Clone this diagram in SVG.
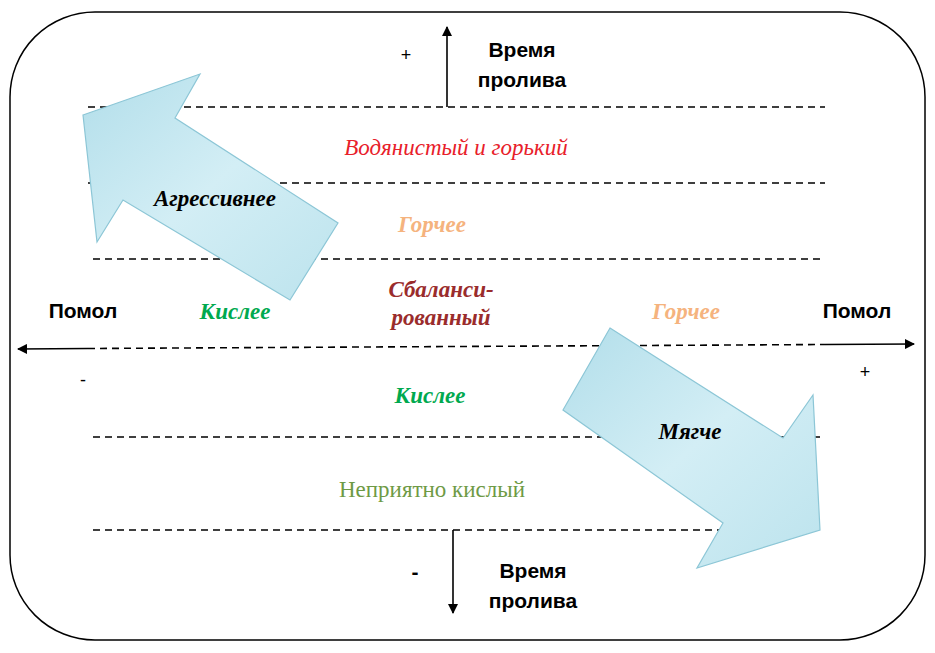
<svg xmlns="http://www.w3.org/2000/svg" width="935" height="653" viewBox="0 0 935 653">
<style>
.dash{stroke:#000;stroke-width:1.6;stroke-dasharray:7 5;fill:none}
.solid{stroke:#000;stroke-width:1.6;fill:none}
.blk{stroke:#8cc6d6;stroke-width:1.2;fill:url(#g)}
.sans{font-family:"Liberation Sans",Arial,sans-serif;font-weight:bold;font-size:21px;fill:#000}
.ser{font-family:"Liberation Serif","Times New Roman",serif;font-size:23px}
.bi{font-family:"Liberation Serif","Times New Roman",serif;font-size:23px;font-style:italic;font-weight:bold}
.sign{font-family:"Liberation Sans",Arial,sans-serif;font-size:18px;fill:#000}
</style>
<defs>
<linearGradient id="g" x1="0" y1="0" x2="1" y2="1">
<stop offset="0" stop-color="#b2deea"/>
<stop offset="0.5" stop-color="#d3eef5"/>
<stop offset="1" stop-color="#bce3ed"/>
</linearGradient>
<marker id="ah2" viewBox="0 0 10 10" refX="9" refY="5" markerWidth="12" markerHeight="10" markerUnits="userSpaceOnUse" orient="auto">
<path d="M0,0 L10,5 L0,10 z" fill="#000"/>
</marker>
</defs>
<rect id="frame" x="10" y="12" width="915" height="628" rx="85" ry="85" fill="#fff" stroke="#000" stroke-width="1.5"/>
<g id="connectors">
<line class="dash" x1="88" y1="107" x2="825" y2="107"/>
<line class="dash" x1="88" y1="183" x2="825" y2="183"/>
<line class="dash" x1="93" y1="259" x2="825" y2="259"/>
<line class="dash" x1="93" y1="437" x2="820" y2="437"/>
<line class="dash" x1="93" y1="530" x2="760" y2="530"/>
<line class="solid" x1="88" y1="348.5" x2="18" y2="349" marker-end="url(#ah2)"/>
<line class="dash" x1="88" y1="348.5" x2="825" y2="344.5"/>
<line class="solid" x1="825" y1="344.5" x2="914" y2="344" marker-end="url(#ah2)"/>
<line class="solid" x1="447" y1="107" x2="447" y2="27" marker-end="url(#ah2)"/>
<line class="solid" x1="453" y1="530" x2="453" y2="613" marker-end="url(#ah2)"/>
</g>
<g id="arrow-aggressive">
<path class="blk" d="M83,115 L200,74 L175,118 L338,223 L290,300 L123,200 L97,242 Z"/>
<text class="bi" x="215" y="206" text-anchor="middle" fill="#000">Агрессивнее</text>
</g>
<g id="arrow-softer">
<path class="blk" d="M610,328 L783,438 L813,395 L820,530 L697,568 L723,523 L563,410 Z"/>
<text class="bi" x="690" y="439" text-anchor="middle" fill="#000">Мягче</text>
</g>
<g id="labels">
<text class="sign" x="406" y="61" text-anchor="middle">+</text>
<text class="sans" x="522" y="57" text-anchor="middle">Время</text>
<text class="sans" x="522" y="87" text-anchor="middle">пролива</text>
<text class="ser" x="456" y="155" text-anchor="middle" font-style="italic" fill="#e8202a">Водянистый и горький</text>
<text class="bi" x="432" y="232" text-anchor="middle" fill="#f5b37e">Горчее</text>
<text class="bi" x="441" y="297" text-anchor="middle" fill="#9a2c2c">Сбаланси-</text>
<text class="bi" x="441" y="325" text-anchor="middle" fill="#9a2c2c">рованный</text>
<text class="bi" x="235" y="319" text-anchor="middle" fill="#00a94f">Кислее</text>
<text class="bi" x="686" y="319" text-anchor="middle" fill="#f5b37e">Горчее</text>
<text class="sans" x="83" y="318" text-anchor="middle">Помол</text>
<text class="sans" x="857" y="318" text-anchor="middle">Помол</text>
<text class="sign" x="83" y="386" text-anchor="middle">-</text>
<text class="sign" x="865" y="378" text-anchor="middle">+</text>
<text class="bi" x="430" y="403" text-anchor="middle" fill="#00a94f">Кислее</text>
<text class="ser" x="432" y="497" text-anchor="middle" fill="#6e9a45">Неприятно кислый</text>
<text class="sans" x="415" y="579" text-anchor="middle">-</text>
<text class="sans" x="533" y="578" text-anchor="middle">Время</text>
<text class="sans" x="533" y="608" text-anchor="middle">пролива</text>
</g>
</svg>
